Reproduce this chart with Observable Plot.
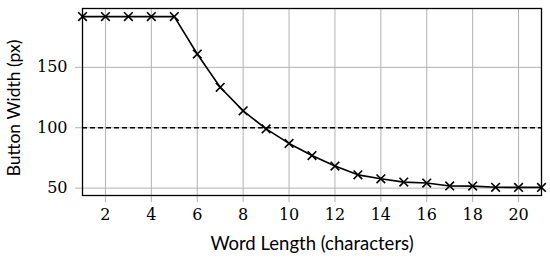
<!DOCTYPE html>
<html>
<head>
<meta charset="utf-8">
<script src="https://cdn.jsdelivr.net/npm/d3@7"></script>
<script src="https://cdn.jsdelivr.net/npm/@observablehq/plot@0.6"></script>
<style>
  html, body { margin: 0; padding: 0; background: #fff; }
</style>
</head>
<body>
<div id="chart"></div>
<script>
const wordLength = [1,2,3,4,5,6,7,8,9,10,11,12,13,14,15,16,17,18,19,20,21];
const buttonWidth = [192,192,192,192,192,161,133.5,114,99,87,77,68.3,61,57.7,55,54.2,51.8,51.7,50.7,50.6,50.6];
const xTicks = [2,4,6,8,10,12,14,16,18,20];
const yTicks = [50,100,150];
const threshold = [100];
const xLabel = "Word Length (characters)";
const yLabel = "Button Width (px)";

const data = wordLength.map((x, i) => ({x, y: buttonWidth[i]}));
const gridColor = "#b3b3b3";
const sans = "Lato, 'Open Sans', sans-serif";
const serif = "'DejaVu Serif', serif";

const chart = Plot.plot({
  width: 550,
  height: 261,
  marginLeft: 82,
  marginRight: 9,
  marginTop: 8,
  marginBottom: 66,
  style: {background: "#fff", color: "#000"},
  x: {domain: [1, 21]},
  y: {domain: [43.9, 198.7]},
  marks: [
    Plot.gridX(xTicks, {stroke: gridColor, strokeOpacity: 1, strokeWidth: 1}),
    Plot.gridY(yTicks, {stroke: gridColor, strokeOpacity: 1, strokeWidth: 1}),
    Plot.axisX(xTicks, {tickSize: 7, stroke: gridColor, strokeOpacity: 1, label: null, tickFormat: () => ""}),
    Plot.axisY(yTicks, {tickSize: 7, stroke: gridColor, strokeOpacity: 1, label: null, tickFormat: () => ""}),
    Plot.text(xTicks, {x: d => d, text: d => String(d), frameAnchor: "bottom", lineAnchor: "top", dy: 13, fontFamily: serif, fontSize: 16, fill: "#000"}),
    Plot.text(yTicks, {y: d => d, text: d => String(d), frameAnchor: "left", textAnchor: "end", dx: -15, fontFamily: serif, fontSize: 16, fill: "#000"}),
    Plot.ruleY(threshold, {stroke: "#000", strokeWidth: 1.3, strokeDasharray: "5,3"}),
    Plot.line(data, {x: "x", y: "y", stroke: "#000", strokeWidth: 1.6}),
    Plot.dot(data, {x: "x", y: "y", symbol: "times", r: 4, stroke: "#000", strokeWidth: 1.6}),
    Plot.frame({stroke: "#000", strokeWidth: 1.3}),
    Plot.text([xLabel], {text: d => d, frameAnchor: "bottom", textAnchor: "middle", dy: 54, fontFamily: sans, fontSize: 18.5, fill: "#000"}),
    Plot.text([yLabel], {text: d => d, frameAnchor: "left", textAnchor: "middle", dx: -68, dy: 6, rotate: -90, fontFamily: sans, fontSize: 17.5, fill: "#000"})
  ]
});
document.getElementById("chart").appendChild(chart);
</script>
</body>
</html>
